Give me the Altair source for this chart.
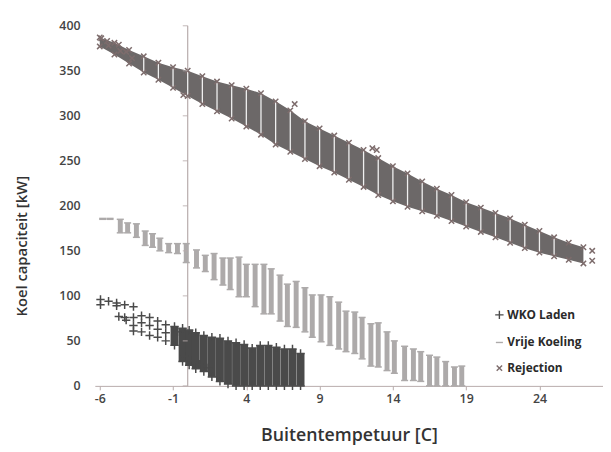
import altair as alt
import pandas as pd

# ---------------- data ----------------
series_names = ["WKO Laden", "Vrije Koeling", "Rejection"]

# Rejection: column centre, lower and upper edge of the band [kW]
rej_x  = [-6, -5, -4, -3, -2, -1, 0, 1, 2, 3, 4, 5, 6, 7, 8, 9, 10, 11, 12, 13,
          14, 15, 16, 17, 18, 19, 20, 21, 22, 23, 24, 25, 26, 27]
rej_lo = [377, 368, 358, 348, 340, 331, 322, 313, 305, 297, 288, 279, 268, 260, 252, 244, 237, 229, 221, 212,
          205, 199, 194, 189, 183, 177, 171, 165, 159, 153, 148, 144, 140, 136]
rej_hi = [387, 381, 373, 366, 359, 354, 350, 344, 338, 334, 330, 325, 316, 306, 294, 286, 278, 270, 262, 253,
          244, 236, 227, 219, 212, 204, 198, 192, 186, 179, 172, 165, 159, 154]
rej_extra_x = [-5.9, -5.5, -5.4, -4.7, -4.6, -4.2, -3.8, -0.3, 7.3, 12.6, 12.9, 27.6, 27.6]
rej_extra_y = [386, 383, 378, 379, 372, 371, 364, 323, 313, 264, 262, 150, 139]
rej_gap_x = [-3, -2, -1, 0, 1, 2, 3, 4, 5, 6, 7, 8, 9, 10, 11, 12, 13, 14, 15, 16, 17, 18,
             19, 20, 21, 22, 23, 24, 25]

# Vrije Koeling: column position, lower and upper value [kW]
vk_x  = [-5.8, -5.3, -4.6, -4.1, -3.5, -2.9, -2.4, -1.9, -1.3, -0.7, -0.1, 0.6, 1.2, 1.8, 2.4, 2.9,
         3.5, 4.0, 4.6, 5.2, 5.7, 6.3, 6.8, 7.4, 8.0, 8.5, 9.1, 9.7, 10.3, 10.8, 11.4, 11.9,
         12.5, 13.0, 13.6, 14.1, 14.8, 15.4, 15.9, 16.5, 17.0, 17.6, 18.2, 18.7]
vk_lo = [185, 185, 170, 170, 165, 156, 154, 150, 148, 147, 137, 131, 127, 118, 112, 107,
         99, 99, 88, 80, 80, 72, 66, 65, 60, 54, 49, 45, 41, 38, 36, 30,
         22, 21, 17, 14, 6, 6, 5, 0, 0, 0, 0, 0]
vk_hi = [186, 186, 185, 181, 180, 172, 169, 164, 158, 158, 158, 151, 145, 147, 142, 142,
         143, 135, 135, 135, 130, 123, 113, 116, 109, 101, 101, 99, 93, 83, 82, 76,
         69, 70, 60, 50, 44, 41, 38, 34, 32, 27, 21, 22]

# WKO Laden: dense columns (x, lower, upper) and separate points on the left
wko_x  = [-0.9, -0.35, 0.1, 0.55, 1.1, 1.65, 2.2, 2.75, 3.3, 3.85, 4.4, 4.95, 5.5, 6.05, 6.6, 7.15, 7.7]
wko_lo = [45, 27, 23, 19, 16, 10, 5, 2, 0, 0, 0, 0, 0, 0, 0, 0, 0]
wko_hi = [66, 64, 62, 59, 56, 54, 53, 50, 48, 46, 42, 45, 45, 43, 41, 41, 36]
wko_pt_x = [-5.95, -5.95, -5.4, -4.85, -4.85, -4.7, -4.3, -4.3, -4.2, -3.7, -3.7, -3.7, -3.7,
            -3.15, -3.15, -3.15, -2.6, -2.6, -2.6, -2.05, -2.05, -2.05, -1.5, -1.5, -1.5,
            -0.7, -0.2, 0.3, 0.8, 1.4]
wko_pt_y = [96, 90, 94, 92, 89, 77, 90, 76, 73, 88, 76, 67, 61,
            78, 70, 60, 76, 67, 56, 72, 63, 54, 68, 59, 50,
            60, 33, 28, 24, 20]

x_ticks = [-6, -1, 4, 9, 14, 19, 24]
y_ticks = [0, 50, 100, 150, 200, 250, 300, 350, 400]
axis_cross = [0]

# ---------------- tables ----------------
rej_band = pd.DataFrame({"x": rej_x, "lo": rej_lo, "hi": rej_hi})
rej_gaps = rej_band[rej_band["x"].isin(rej_gap_x)]
vk_bars = pd.DataFrame({"x": vk_x, "lo": vk_lo, "hi": vk_hi})
wko_bars = pd.DataFrame({"x": wko_x, "lo": wko_lo, "hi": wko_hi})

pts = [{"x": a, "y": b, "series": series_names[0]} for a, b in zip(wko_pt_x, wko_pt_y)]
for a, lo, hi in zip(wko_x, wko_lo, wko_hi):
    pts += [{"x": a, "y": hi, "series": series_names[0]}, {"x": a, "y": lo, "series": series_names[0]}]
for a, lo, hi in zip(vk_x, vk_lo, vk_hi):
    pts += [{"x": a, "y": hi, "series": series_names[1]}, {"x": a, "y": lo, "series": series_names[1]}]
for a, lo, hi in zip(rej_x, rej_lo, rej_hi):
    pts += [{"x": a, "y": hi, "series": series_names[2]}, {"x": a, "y": lo, "series": series_names[2]}]
pts += [{"x": a, "y": b, "series": series_names[2]} for a, b in zip(rej_extra_x, rej_extra_y)]
points = pd.DataFrame(pts)

FONT = "Open Sans"
AXIS_COL = "#b7abab"
C_WKO, C_VK, C_REJ_BAR, C_REJ = "#4a4a4a", "#adaaaa", "#6c6868", "#7d6c6c"

x_scale = alt.Scale(domain=[-6, 28], nice=False, zero=False)
y_scale = alt.Scale(domain=[0, 400], nice=False)
x_axis = alt.Axis(values=x_ticks, labelExpr="'' + datum.value", grid=False,
                  title="Buitentempetuur [C]", titleFont=FONT, titleFontSize=18,
                  titleFontWeight=600, titleColor="#333333", titlePadding=22,
                  labelFont=FONT, labelFontSize=12.5, labelFontWeight=600, labelColor="#444",
                  labelPadding=3, domainColor=AXIS_COL, tickColor=AXIS_COL, tickSize=4)
y_axis = alt.Axis(values=y_ticks, grid=False, domain=False, ticks=False,
                  title="Koel capaciteit [kW]", titleFont=FONT, titleFontSize=15,
                  titleFontWeight=600, titleColor="#333333", titleX=-74, titleY=223,
                  titleAlign="center", titleBaseline="middle", titleAngle=270,
                  labelFont=FONT, labelFontSize=12.5, labelFontWeight=600, labelColor="#444",
                  labelPadding=15)

X = alt.X("x:Q", scale=x_scale, axis=x_axis)
Ylo = alt.Y("lo:Q", scale=y_scale, axis=y_axis)

cross_line = alt.Chart(pd.DataFrame({"x": axis_cross})).mark_rule(
    color=AXIS_COL, strokeWidth=1.2).encode(x=X)

cross_ticks = alt.Chart(pd.DataFrame({"x": axis_cross * len(y_ticks), "y": y_ticks})).mark_tick(
    orient="horizontal", size=5, thickness=1.2, color=AXIS_COL, xOffset=-2.5).encode(
    x=X, y=alt.Y("y:Q", scale=y_scale, axis=y_axis))

rej_area = alt.Chart(rej_band).mark_area(color=C_REJ_BAR, opacity=1).encode(
    x=X, y=Ylo, y2="hi:Q")
rej_gap_rules = alt.Chart(rej_gaps).mark_rule(color="white", strokeWidth=1.3, opacity=0.9).encode(
    x=X, y=Ylo, y2="hi:Q")

def bars(df, color, width):
    return alt.Chart(df).mark_bar(color=color, size=width, opacity=1).encode(
        x=X, y=Ylo, y2="hi:Q")

PLUS = "M-1,0L1,0M0,-1L0,1"
DASH = "M-1,0L1,0"
CROSS = "M-1,-1L1,1M1,-1L-1,1"

point_layer = alt.Chart(points).mark_point(filled=False, opacity=1, strokeWidth=1.5).encode(
    x=X,
    y=alt.Y("y:Q", scale=y_scale, axis=y_axis),
    color=alt.Color("series:N", scale=alt.Scale(domain=series_names, range=[C_WKO, C_VK, C_REJ]),
                    legend=alt.Legend(title=None, orient="none", legendX=404, legendY=287,
                                      labelFont=FONT, labelFontSize=12, labelFontWeight="bold",
                                      labelColor="#2a2a2a", rowPadding=14, symbolSize=40,
                                      symbolStrokeWidth=1.4, labelOffset=2)),
    shape=alt.Shape("series:N", scale=alt.Scale(domain=series_names, range=[PLUS, DASH, CROSS]),
                    legend=None),
    size=alt.Size("series:N", scale=alt.Scale(domain=series_names, range=[72, 30, 85]), legend=None),
)

chart = alt.layer(
    cross_line,
    rej_area,
    rej_gap_rules,
    bars(vk_bars, C_VK, 5),
    bars(wko_bars, C_WKO, 8),
    point_layer,
    cross_ticks,
).properties(
    width=515, height=365,
    autosize=alt.AutoSizeParams(type="none"),
    padding={"left": 88, "top": 15, "right": 0, "bottom": 62},
    background="white",
).configure_view(stroke=None)

chart.save("out.html", embed_options={"renderer": "svg", "actions": False})
